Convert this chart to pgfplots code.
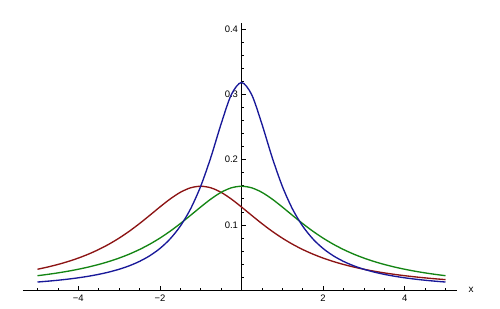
\documentclass[border=0pt]{standalone}
\usepackage{pgfplots}
\pgfplotsset{compat=1.18}
\usepackage{fontspec}
\setmainfont{Liberation Sans}
\definecolor{cblue}{rgb}{0.1,0.1,0.6}
\definecolor{cred}{rgb}{0.55,0.08,0.08}
\definecolor{cgreen}{rgb}{0.08,0.52,0.08}
\begin{document}
\begin{tikzpicture}
\begin{axis}[
  x=40.8bp, y=652bp,
  axis lines=middle,
  axis line style={-, black, line width=0.7pt},
  xmin=-5.36, xmax=5.28, ymin=0, ymax=0.41,
  xtick={-4,-2,2,4},
  xticklabels={−4,−2,2,4},
  minor xtick={-5,-4.5,-3.5,-3,-2.5,-1.5,-1,-0.5,0,0.5,1,1.5,2.5,3,3.5,4.5,5},
  ytick={0.1,0.2,0.3,0.4},
  yticklabels={0.1,0.2,0.3,0.4},
  minor ytick={0.02,0.04,0.06,0.08,0.12,0.14,0.16,0.18,0.22,0.24,0.26,0.28,0.32,0.34,0.36,0.38},
  tick align=inside,
  major tick length=4.5bp,
  minor tick length=2.5bp,
  tick style={black, line width=0.5pt},
  tick label style={font=\fontsize{9.5}{11}\selectfont},
  xticklabel style={yshift=-1bp},
  clip=false,
  every axis plot/.append style={line width=1.35pt, smooth, no markers},
]
\addplot[cred] coordinates {
(-5,0.03183) (-4.75,0.03525) (-4.5,0.03918) (-4.25,0.04372) (-4,0.04897)
(-3.75,0.05506) (-3.5,0.06211) (-3.25,0.07025) (-3,0.07958) (-2.75,0.09014)
(-2.5,0.10186) (-2.25,0.11445) (-2,0.12732) (-1.75,0.13953) (-1.5,0.14979)
(-1.25,0.15671) (-1,0.15915) (-0.75,0.15671) (-0.5,0.14979) (-0.25,0.13953)
(0,0.12732) (0.25,0.11445) (0.5,0.10186) (0.75,0.09014) (1,0.07958)
(1.25,0.07025) (1.5,0.06211) (1.75,0.05506) (2,0.04897) (2.25,0.04372)
(2.5,0.03918) (2.75,0.03525) (3,0.03183) (3.25,0.02885) (3.5,0.02625)
(3.75,0.02397) (4,0.02195) (4.25,0.02017) (4.5,0.01859) (4.75,0.01718)
(5,0.01592)
};
\addplot[cgreen] coordinates {
(-5,0.02195) (-4.75,0.02397) (-4.5,0.02625) (-4.25,0.02885) (-4,0.03183)
(-3.75,0.03525) (-3.5,0.03918) (-3.25,0.04372) (-3,0.04897) (-2.75,0.05506)
(-2.5,0.06211) (-2.25,0.07025) (-2,0.07958) (-1.75,0.09014) (-1.5,0.10186)
(-1.25,0.11445) (-1,0.12732) (-0.75,0.13953) (-0.5,0.14979) (-0.25,0.15671)
(0,0.15915) (0.25,0.15671) (0.5,0.14979) (0.75,0.13953) (1,0.12732)
(1.25,0.11445) (1.5,0.10186) (1.75,0.09014) (2,0.07958) (2.25,0.07025)
(2.5,0.06211) (2.75,0.05506) (3,0.04897) (3.25,0.04372) (3.5,0.03918)
(3.75,0.03525) (4,0.03183) (4.25,0.02885) (4.5,0.02625) (4.75,0.02397)
(5,0.02195)
};
\addplot[cblue] coordinates {
(-5,0.01224) (-4.75,0.01351) (-4.5,0.01498) (-4.25,0.01670) (-4,0.01872)
(-3.75,0.02113) (-3.5,0.02402) (-3.25,0.02753) (-3,0.03183) (-2.75,0.03717)
(-2.5,0.04390) (-2.25,0.05250) (-2,0.06366) (-1.75,0.07835) (-1.5,0.09794)
(-1.25,0.12422) (-1,0.15915) (-0.75,0.20372) (-0.5,0.25465) (-0.25,0.29959)
(0,0.31831) (0.25,0.29959) (0.5,0.25465) (0.75,0.20372) (1,0.15915)
(1.25,0.12422) (1.5,0.09794) (1.75,0.07835) (2,0.06366) (2.25,0.05250)
(2.5,0.04390) (2.75,0.03717) (3,0.03183) (3.25,0.02753) (3.5,0.02402)
(3.75,0.02113) (4,0.01872) (4.25,0.01670) (4.5,0.01498) (4.75,0.01351)
(5,0.01224)
};
\node[font=\fontsize{10}{11}\selectfont] at (axis cs:5.63,0) {x};
\coordinate (bl) at (axis cs:-5.919,-0.0291);
\coordinate (tr) at (axis cs:6.336,0.4448);
\end{axis}
\pgfresetboundingbox
\path[use as bounding box] (bl) rectangle (tr);
\end{tikzpicture}
\end{document}
